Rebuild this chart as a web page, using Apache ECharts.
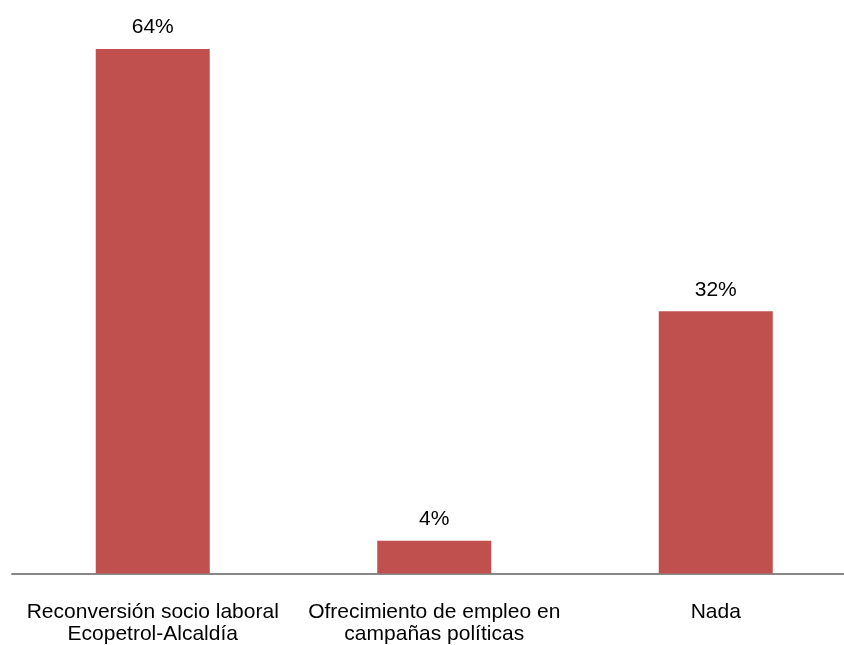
<!DOCTYPE html>
<html>
<head>
<meta charset="utf-8">
<script src="https://cdn.jsdelivr.net/npm/echarts@6/dist/echarts.min.js"></script>
<style>
html,body{margin:0;padding:0;background:#fff;}
#c{width:844px;height:645px;}
</style>
</head>
<body>
<div id="c"></div>
<script>
const categories = ["Reconversión socio laboral\nEcopetrol-Alcaldía", "Ofrecimiento de empleo en\ncampañas políticas", "Nada"];
const values = [64, 4, 32];

const chart = echarts.init(document.getElementById('c'), null, {renderer: 'canvas'});
chart.setOption({
  animation: false,
  backgroundColor: '#ffffff',
  grid: {left: 12, top: 49, width: 844.5, bottom: 71.5, containLabel: false, outerBoundsMode: 'none'},
  xAxis: {
    type: 'category',
    data: categories,
    axisLine: {show: true, lineStyle: {color: '#888888', width: 2}},
    axisTick: {show: false},
    axisLabel: {
      interval: 0,
      margin: 28,
      color: '#000000',
      fontFamily: 'Liberation Sans, Arial, sans-serif',
      fontSize: 21,
      lineHeight: 22
    }
  },
  yAxis: {
    type: 'value',
    min: 0,
    max: 64,
    show: false,
    splitLine: {show: false}
  },
  series: [{
    type: 'bar',
    data: values,
    barWidth: 114,
    itemStyle: {color: '#C0504D'},
    label: {
      show: true,
      position: 'top',
      distance: 11,
      formatter: p => p.value + '%',
      color: '#000000',
      fontFamily: 'Liberation Sans, Arial, sans-serif',
      fontSize: 21
    }
  }]
});
</script>
</body>
</html>
